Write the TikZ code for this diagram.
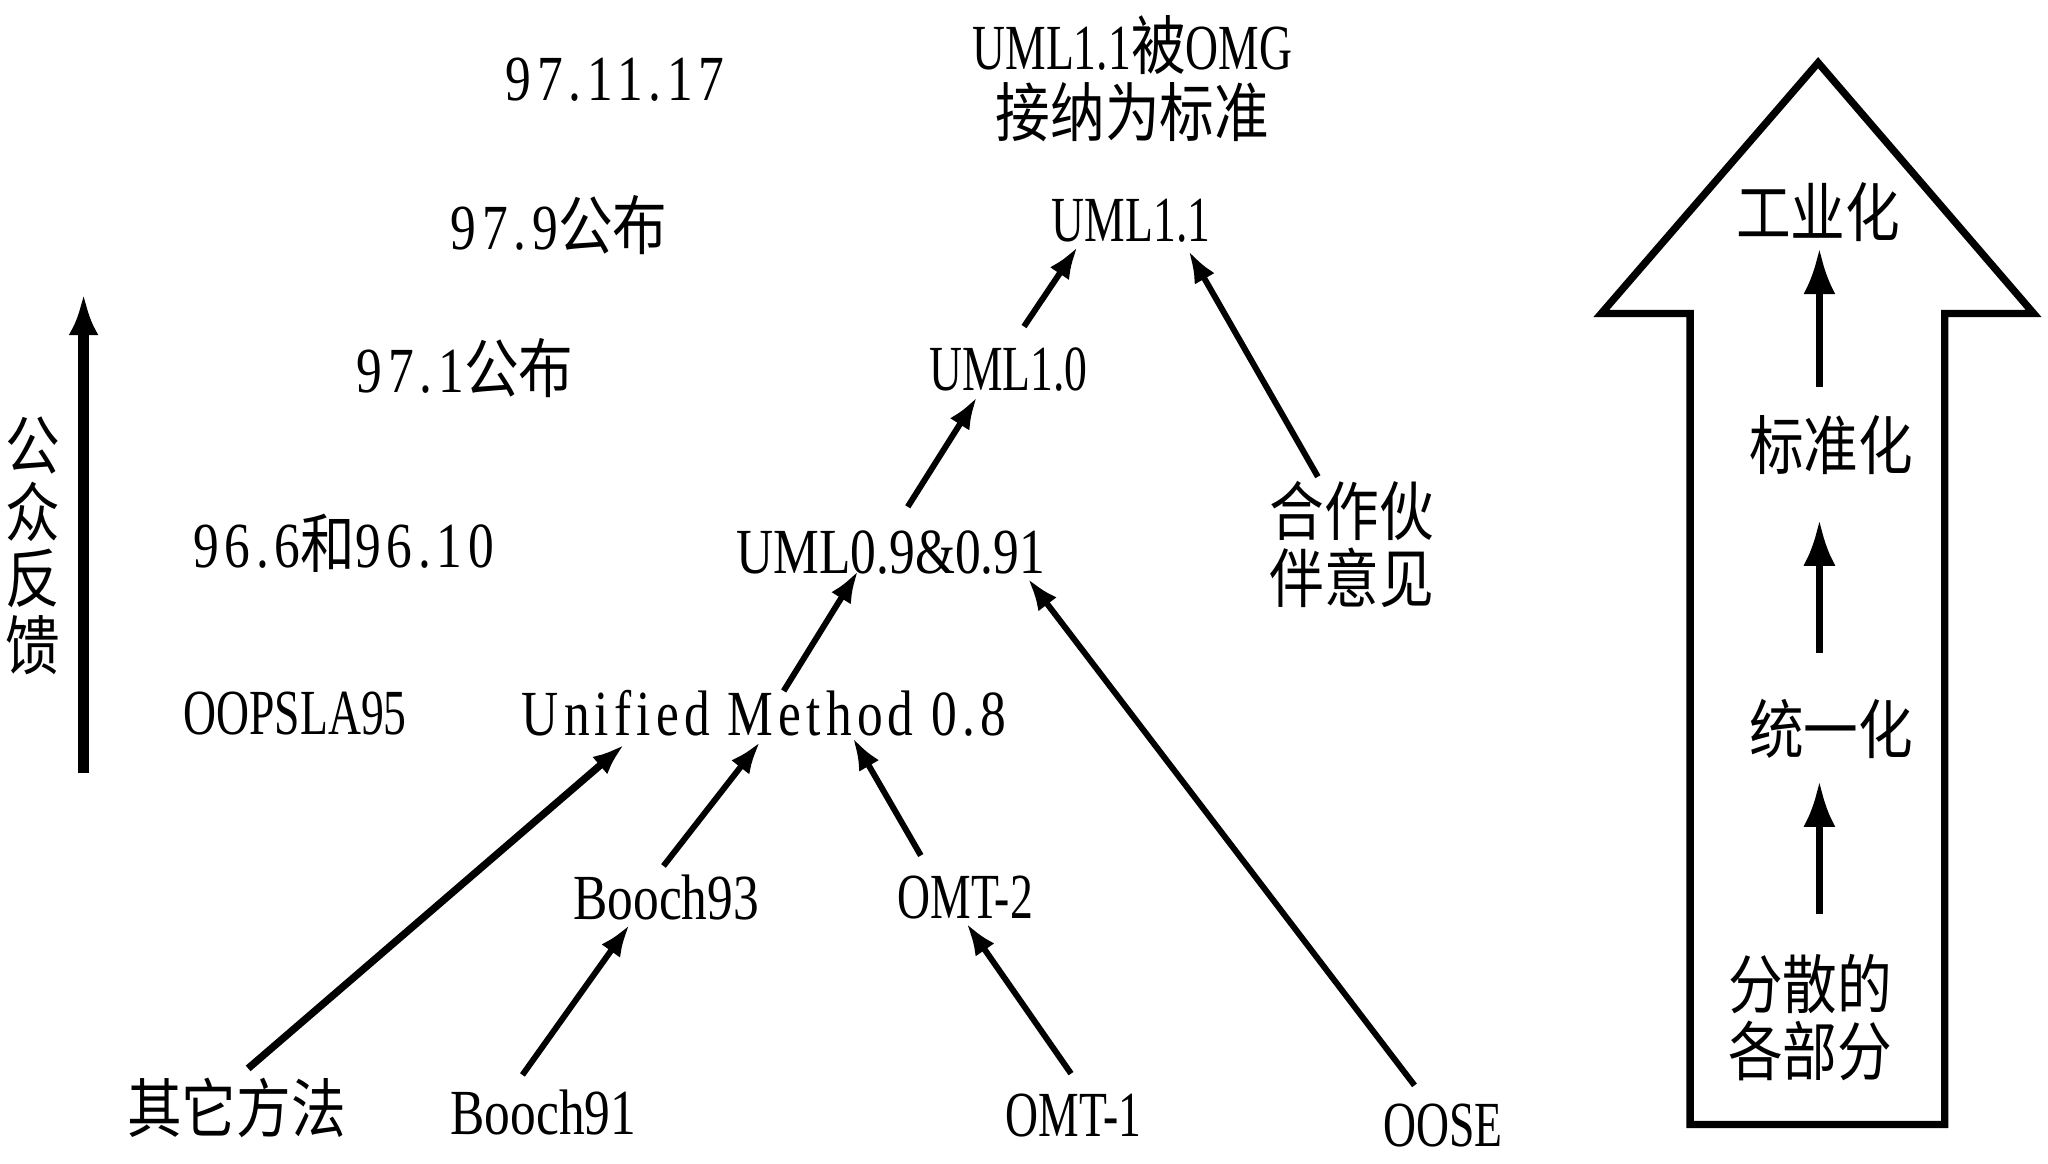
\documentclass[tikz,border=0pt]{standalone}
\usepackage{fontspec}
\setmainfont{Liberation Serif}[FakeStretch=0.8]
\newfontfamily\zh{Noto Sans CJK SC}[FakeStretch=0.85]
\usetikzlibrary{arrows.meta}
\newcommand{\sz}{\fontsize{14}{14.5}\selectfont}
\tikzset{
  lbl/.style={inner sep=0pt, align=center, font=\sz},
  caps/.style={lbl, font=\sz\addfontfeature{FakeStretch=0.71}},
  datel/.style={lbl, font=\sz\addfontfeature{LetterSpace=9}},
  zhlbl/.style={inner sep=0pt, align=center, font=\sz\zh},
  arr/.style={line width=1.3pt, -{Latex[length=7pt,width=5pt]}},
  stage/.style={line width=1.6pt, -{Latex[length=10pt,width=7pt]}},
}
\begin{document}
\begin{tikzpicture}[x=0.01cm, y=-0.01cm]
\useasboundingbox (0,0) rectangle (1568,891);
% dates on the left
\foreach \n/\x/\y/\t in {d1/471/61/{97.11.17}, d2/428/172/{97.9{\zh 公布}},
    d3/356/282/{97.1{\zh 公布}}, d4/263/416/{96.6{\zh 和}96.10}}
  \node[datel] (\n) at (\x,\y) {\t};
\node[caps] (d5) at (226,546) {OOPSLA95};
\node[zhlbl] (fb) at (25,418) {公\\众\\反\\馈};
\coordinate (fbtail) at (64,592);
\coordinate (fbtip) at (64,225);
\draw[line width=2.4pt, -{Latex[length=9pt,width=6.5pt]}] (fbtail) -- (fbtip);
% versions
\node[caps] (omg) at (867,60) {UML1.1{\zh 被}OMG\\{\zh 接纳为标准}};
\node[caps] (uml11) at (866,169) {UML1.1};
\node[caps] (uml10) at (772,283) {UML1.0};
\node[lbl] (uml09) at (682,423) {UML0.9\&0.91};
\node[zhlbl] (partner) at (1035,417) {合作伙\\伴意见};
\node[lbl] (um08) at (585,546) {\addfontfeature{LetterSpace=8}Unified Method 0.8};
\node[lbl] (b93) at (510,687) {Booch93};
\node[caps] (omt2) at (739,687) {OMT-2};
\node[zhlbl] (other) at (181,848) {其它方法};
\node[lbl] (b91) at (416,852) {Booch91};
\node[caps] (omt1) at (822,854) {OMT-1};
\node[caps] (oose) at (1105,862) {OOSE};
\draw[arr, line width=1.6pt] ([shift={(9,-30)}]other.center) -- ([shift={(-107,24)}]um08.center);
\foreach \a/\sa/\b/\sb in {b91/{(-16,-29)}/b93/{(-28,21)}, b93/{(-2,-24)}/um08/{(-3,22)},
    omt2/{(-34,-32)}/um08/{(68,19)}, omt1/{(-2,-32)}/omt2/{(1,20)},
    um08/{(15,-17)}/uml09/{(-25,14)}, oose/{(-22,-31)}/uml09/{(105,20)},
    uml09/{(13,-35)}/uml10/{(-24,21)}, uml10/{(12,-33)}/uml11/{(-41,20)},
    partner/{(-26,-52)}/uml11/{(44,23)}}
  \draw[arr] ([shift={\sa}]\a.center) -- ([shift={\sb}]\b.center);
% big arrow on the right
\draw[line width=1.6pt] (1294,861) -- (1294,240) -- (1226,240) -- (1392,48)
  -- (1557,240) -- (1489,240) -- (1489,861) -- cycle;
\node[zhlbl] (ind) at (1392,162) {工业化};
\node[zhlbl] (std) at (1402,341) {标准化};
\node[zhlbl] (uni) at (1402,558) {统一化};
\node[zhlbl] (part) at (1386,779) {分散的\\各部分};
\draw[stage] ([shift={(-9,-45)}]std.center) -- ([shift={(1,28)}]ind.center);
\draw[stage] ([shift={(-9,-58)}]uni.center) -- ([shift={(-9,57)}]std.center);
\draw[stage] ([shift={(7,-79)}]part.center) -- ([shift={(-9,40)}]uni.center);
\end{tikzpicture}
\end{document}
